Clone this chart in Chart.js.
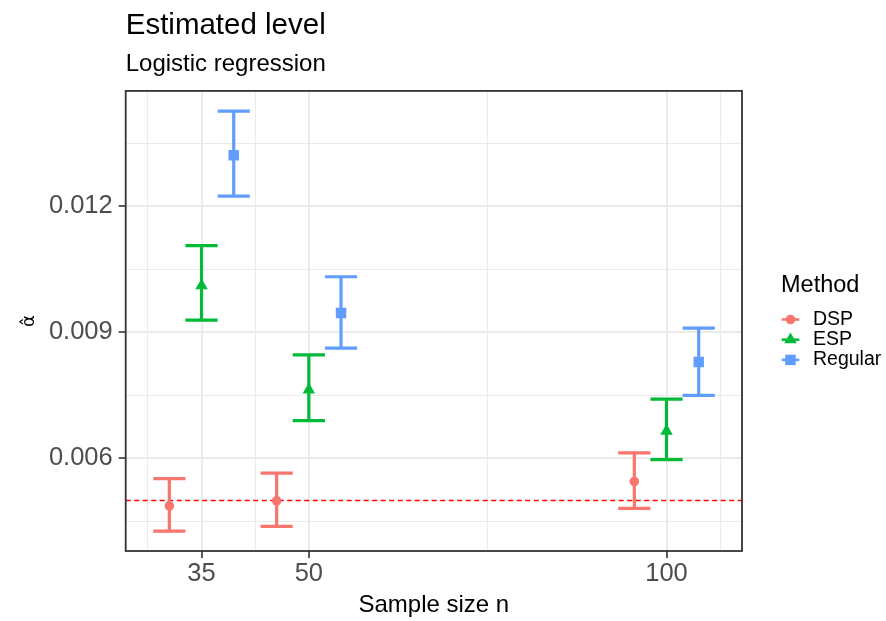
<!DOCTYPE html>
<html>
<head>
<meta charset="utf-8">
<title>Estimated level</title>
<script src="https://cdn.jsdelivr.net/npm/chart.js@4.4.0/dist/chart.umd.min.js"></script>
<style>
  html, body { margin: 0; padding: 0; background: #fff; }
  #wrap { width: 886px; height: 621px; }
</style>
</head>
<body>
<div id="wrap"><canvas id="levelChart" width="886" height="621"></canvas></div>
<script>
// Sample sizes and methods
const sampleSizes = [35, 50, 100];
const methods = ['DSP', 'ESP', 'Regular'];

// Estimated level with lower / upper interval bounds, one entry per sample size
const dspEst  = [0.00487, 0.00499, 0.00545];
const dspLow  = [0.00427, 0.00438, 0.00481];
const dspHigh = [0.00552, 0.00565, 0.00613];

const espEst  = [0.01011, 0.00763, 0.00665];
const espLow  = [0.00929, 0.00690, 0.00597];
const espHigh = [0.01106, 0.00846, 0.00741];

const regEst  = [0.01321, 0.00946, 0.00829];
const regLow  = [0.01224, 0.00862, 0.00750];
const regHigh = [0.01426, 0.01032, 0.00910];

const nominalLevel = 0.005;

// Axis breaks
const xBreaks = [35, 50, 100];
const xMinorBreaks = [27.5, 42.5, 75, 107.5];
const yBreaks = [0.006, 0.009, 0.012];
const yMinorBreaks = [0.0045, 0.0075, 0.0105, 0.0135];

const FONT = "'Liberation Sans', Arial, sans-serif";
Chart.defaults.font.family = FONT;

const xLim = [24.4, 110.55];
const yLim = [0.0037965, 0.0147407];
const dodge = 4.5;      // horizontal shift between methods
const capHalf = 2.25;   // half width of the error bar caps

const styles = {
  DSP:     { color: '#F8766D', shape: 'circle',   r: 4.8, offset: -dodge },
  ESP:     { color: '#00BA38', shape: 'triangle', r: 7.2, offset: 0 },
  Regular: { color: '#619CFF', shape: 'rect',     r: 7.4, offset: dodge }
};

const series = {
  DSP: [dspEst, dspLow, dspHigh],
  ESP: [espEst, espLow, espHigh],
  Regular: [regEst, regLow, regHigh]
};

// vertical bar plus two caps per sample size, separated by gaps
function errorBarPath(low, high, offset) {
  const pts = [];
  sampleSizes.forEach((n, i) => {
    const x = n + offset;
    pts.push({ x: x, y: low[i] }, { x: x, y: high[i] }, { x: x, y: null });
    pts.push({ x: x - capHalf, y: high[i] }, { x: x + capHalf, y: high[i] }, { x: x, y: null });
    pts.push({ x: x - capHalf, y: low[i] }, { x: x + capHalf, y: low[i] }, { x: x, y: null });
  });
  return pts;
}

const pointSets = methods.map(m => ({
  label: m,
  data: sampleSizes.map((n, i) => ({ x: n + styles[m].offset, y: series[m][0][i] })),
  pointStyle: styles[m].shape,
  pointRadius: styles[m].r,
  pointHoverRadius: styles[m].r,
  backgroundColor: styles[m].color,
  borderWidth: 0
}));

const barSets = methods.map(m => ({
  type: 'line',
  label: m + ' interval',
  data: errorBarPath(series[m][1], series[m][2], styles[m].offset),
  borderColor: styles[m].color,
  borderWidth: 3.2,
  borderCapStyle: 'butt',
  pointRadius: 0,
  pointHoverRadius: 0,
  spanGaps: false,
  fill: false
}));

const refLine = {
  type: 'line',
  label: 'nominal',
  data: [{ x: xLim[0], y: nominalLevel }, { x: xLim[1], y: nominalLevel }],
  borderColor: '#FF0000',
  borderWidth: 1.5,
  borderDash: [5, 3.5],
  pointRadius: 0,
  fill: false
};

const isMajor = (list, v) => list.some(b => Math.abs(b - v) < 1e-9);

function gridFor(list) {
  return {
    color: '#EBEBEB',
    lineWidth: c => (c.tick && isMajor(list, c.tick.value)) ? 2 : 1,
    tickColor: c => (c.tick && isMajor(list, c.tick.value)) ? '#333333' : 'rgba(0,0,0,0)',
    tickWidth: 1.6,
    tickLength: 7
  };
}

// dark frame around the plotting panel
const panelBorder = {
  id: 'panelBorder',
  afterDatasetsDraw(chart) {
    const { ctx, chartArea: a } = chart;
    ctx.save();
    ctx.strokeStyle = '#333333';
    ctx.lineWidth = 1.8;
    ctx.strokeRect(a.left, a.top, a.right - a.left, a.bottom - a.top);
    ctx.restore();
  }
};

// legend on the right: line key with the method marker
const methodLegend = {
  id: 'methodLegend',
  afterDraw(chart) {
    const ctx = chart.ctx;
    ctx.save();
    ctx.fillStyle = '#000';
    ctx.font = '23.5px ' + FONT;
    ctx.textAlign = 'left';
    ctx.textBaseline = 'alphabetic';
    ctx.fillText('Method', 781, 291.7);
    ctx.font = '19.5px ' + FONT;
    ctx.textBaseline = 'middle';
    methods.forEach((m, i) => {
      const y = 319.5 + i * 20.2;
      const s = styles[m];
      ctx.strokeStyle = s.color;
      ctx.lineWidth = 2.6;
      ctx.beginPath();
      ctx.moveTo(781.7, y);
      ctx.lineTo(799.3, y);
      ctx.stroke();
      ctx.fillStyle = s.color;
      Chart.helpers.drawPoint(ctx, { pointStyle: s.shape, radius: s.r, borderWidth: 0, rotation: 0 }, 790.5, y);
      ctx.fillStyle = '#000';
      ctx.fillText(m, 813, y);
    });
    ctx.restore();
  }
};

const ctx = document.getElementById('levelChart').getContext('2d');
new Chart(ctx, {
  type: 'scatter',
  data: { datasets: [...pointSets, ...barSets, refLine] },
  plugins: [panelBorder, methodLegend],
  options: {
    responsive: false,
    animation: false,
    events: [],
    layout: { padding: { left: 0, right: 144, top: 0, bottom: 0 } },
    plugins: {
      legend: { display: false },
      tooltip: { enabled: false },
      title: {
        display: true,
        text: 'Estimated level',
        align: 'start',
        fullSize: false,
        color: '#000',
        font: { size: 29.5, weight: 'normal' },
        padding: { top: 8, bottom: 3.2 }
      },
      subtitle: {
        display: true,
        text: 'Logistic regression',
        align: 'start',
        fullSize: false,
        color: '#000',
        font: { size: 24, weight: 'normal' },
        padding: { top: 3.5, bottom: 12 }
      }
    },
    scales: {
      x: {
        type: 'linear',
        min: xLim[0],
        max: xLim[1],
        afterBuildTicks: axis => {
          axis.ticks = xMinorBreaks.concat(xBreaks).sort((a, b) => a - b).map(v => ({ value: v }));
        },
        afterFit: axis => { axis.height = 70; },
        ticks: {
          autoSkip: false,
          maxRotation: 0,
          color: '#4D4D4D',
          font: { size: 25.5, lineHeight: 1 },
          padding: 3.5,
          callback: v => isMajor(xBreaks, v) ? String(v) : ''
        },
        grid: gridFor(xBreaks),
        border: { display: false },
        title: {
          display: true,
          text: 'Sample size n',
          color: '#000',
          font: { size: 24 },
          padding: { top: 0, bottom: 1.7 }
        }
      },
      y: {
        type: 'linear',
        min: yLim[0],
        max: yLim[1],
        afterBuildTicks: axis => {
          axis.ticks = yMinorBreaks.concat(yBreaks).sort((a, b) => a - b).map(v => ({ value: v }));
        },
        afterFit: axis => { axis.width = 125.7; },
        ticks: {
          autoSkip: false,
          color: '#4D4D4D',
          font: { size: 25.5 },
          padding: 6,
          callback: v => isMajor(yBreaks, v) ? v.toFixed(3) : ''
        },
        grid: gridFor(yBreaks),
        border: { display: false },
        title: {
          display: true,
          text: 'α\u0302',
          color: '#000',
          font: { family: "'DejaVu Sans', sans-serif", size: 18 },
          padding: { top: 19, bottom: 0 }
        }
      }
    }
  }
});
</script>
</body>
</html>
